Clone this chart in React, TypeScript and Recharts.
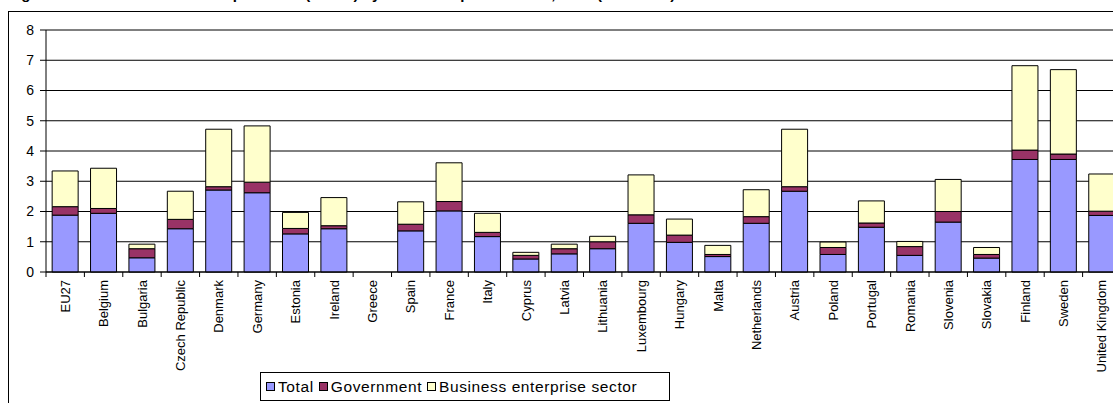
import React from "react";
import {Bar, BarChart, CartesianGrid, XAxis, YAxis} from "recharts";

const categories = [
	"EU27", "Belgium", "Bulgaria", "Czech Republic", "Denmark", "Germany", "Estonia", "Ireland",
	"Greece", "Spain", "France", "Italy", "Cyprus", "Latvia", "Lithuania", "Luxembourg", "Hungary",
	"Malta", "Netherlands", "Austria", "Poland", "Portugal", "Romania", "Slovenia", "Slovakia",
	"Finland", "Sweden", "United Kingdom",
];

const totalValues = [
	1.88, 1.94, 0.47, 1.43, 2.71, 2.62, 1.26, 1.43, null, 1.36, 2.02, 1.17, 0.43, 0.6, 0.77, 1.61,
	0.98, 0.51, 1.61, 2.67, 0.58, 1.48, 0.55, 1.65, 0.46, 3.72, 3.72, 1.87,
];

const governmentValues = [
	0.28, 0.16, 0.3, 0.31, 0.11, 0.35, 0.18, 0.1, null, 0.22, 0.31, 0.14, 0.12, 0.17, 0.23, 0.28,
	0.24, 0.07, 0.22, 0.15, 0.23, 0.14, 0.29, 0.35, 0.12, 0.31, 0.18, 0.14,
];

const businessValues = [
	1.18, 1.33, 0.15, 0.93, 1.9, 1.86, 0.53, 0.93, null, 0.74, 1.28, 0.63, 0.1, 0.15, 0.18, 1.32,
	0.53, 0.3, 0.89, 1.9, 0.18, 0.73, 0.17, 1.06, 0.23, 2.79, 2.79, 1.23,
];

const yTicks = [0, 1, 2, 3, 4, 5, 6, 7, 8];

const series = [
	{key: "total", name: "Total", color: "#9999FF"},
	{key: "government", name: "Government", color: "#993366"},
	{key: "business", name: "Business enterprise sector", color: "#FFFFCC"},
];

const data = categories.map((name, i) => ({
	name,
	total: totalValues[i],
	government: governmentValues[i],
	business: businessValues[i],
}));

const FONT = "'Liberation Sans', Arial, sans-serif";
const CHART_W = 1140;
const CHART_H = 403;
const MARGIN = {top: 30, right: 19, left: 16, bottom: 31};
const Y_AXIS_W = 30;
const band = (CHART_W - MARGIN.left - MARGIN.right - Y_AXIS_W) / categories.length;

type TickProps = {x: number; y: number; payload: {value: string; index: number}};

function CountryTick({x, y, payload}: TickProps) {
	const last = payload.index === categories.length - 1;
	return (
		<g>
			<line x1={x - band / 2} x2={x - band / 2} y1={y - 8} y2={y - 3} stroke="#000"/>
			{last && <line x1={x + band / 2} x2={x + band / 2} y1={y - 8} y2={y - 3} stroke="#000"/>}
			<text
				x={x}
				y={y}
				dy="0.36em"
				transform={`rotate(-90, ${x}, ${y})`}
				textAnchor="end"
				fontSize={13}
				fontFamily={FONT}
				fill="#000"
			>
				{payload.value}
			</text>
		</g>
	);
}

export default function App() {
	return (
		<div style={{position: "fixed", left: 0, top: 0, width: 1113, height: 403, overflow: "hidden", background: "#fff"}}>
			<div style={{position: "absolute", left: 8, top: -15, fontFamily: FONT, fontWeight: "bold", fontSize: 15, whiteSpace: "nowrap"}}>
				Figure: Total intramural R&amp;D expenditure (GERD) by sectors of performance, 2008 (% of GDP)
			</div>
			<div style={{position: "absolute", left: 8, top: 11, width: 1200, height: 500, border: "1px solid #000"}}/>
			<div style={{position: "absolute", left: 0, top: 0}}>
				<BarChart width={CHART_W} height={CHART_H} data={data} margin={MARGIN} barCategoryGap="16%">
					<CartesianGrid vertical={false} stroke="#000"/>
					<YAxis
						width={Y_AXIS_W}
						domain={[0, 8]}
						ticks={yTicks}
						interval={0}
						axisLine={{stroke: "#000"}}
						tickLine={{stroke: "#000"}}
						tickSize={6}
						tickMargin={6}
						tick={{fontSize: 14, fontFamily: FONT, fill: "#000"}}
					/>
					<XAxis
						dataKey="name"
						interval={0}
						height={100}
						axisLine={{stroke: "#000"}}
						tickLine={false}
						tickSize={6}
						tickMargin={2}
						tick={(props: TickProps) => <CountryTick {...props}/>}
					/>
					{series.map((s) => (
						<Bar
							key={s.key}
							dataKey={s.key}
							name={s.name}
							stackId="gerd"
							fill={s.color}
							stroke="#000"
							strokeWidth={1}
							isAnimationActive={false}
						/>
					))}
				</BarChart>
			</div>
			<div
				style={{
					position: "absolute",
					left: 260,
					top: 372,
					width: 403,
					height: 27,
					border: "1px solid #000",
					display: "flex",
					alignItems: "center",
					paddingLeft: 5,
					boxSizing: "content-box",
					fontFamily: FONT,
					fontSize: 15.5,
					letterSpacing: 0.6,
					color: "#000",
					background: "#fff",
				}}
			>
				{series.map((s) => (
					<span key={s.key} style={{display: "flex", alignItems: "center", marginRight: 5}}>
						<span style={{width: 7, height: 7, border: "1px solid #000", background: s.color, marginRight: 3}}/>
						{s.name}
					</span>
				))}
			</div>
		</div>
	);
}
